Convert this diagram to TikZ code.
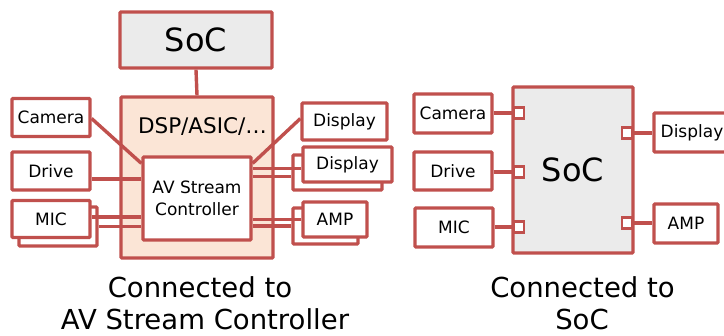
\documentclass[tikz,border=0pt]{standalone}
\usepackage{fontspec}
\setmainfont{DejaVu Sans}
\usetikzlibrary{calc}
\definecolor{bred}{HTML}{C0504D}
\definecolor{sgray}{HTML}{EBEBEB}
\definecolor{peach}{HTML}{FBE5D6}
\begin{document}
\begin{tikzpicture}[x=1pt,y=-1pt,
 box/.style={draw=bred, line width=3.2pt, fill=white, inner sep=0pt, align=center, rounded corners=1pt, font=\fontsize{17}{22.5}\selectfont},
 conn/.style={draw=bred, line width=3.4pt},
 port/.style={draw=bred, line width=2.4pt, fill=white, minimum width=10pt, minimum height=11pt, inner sep=0pt},
 big/.style={font=\fontsize{32}{38}\selectfont},
 caption/.style={font=\fontsize{27.5}{32}\selectfont, anchor=base, inner sep=0pt},
]
\useasboundingbox (0,0) rectangle (724,336);
\begin{scope}
\clip (0,0) rectangle (724,336);
% ---------- left panel ----------
\node[box, fill=sgray, minimum width=152pt, minimum height=56pt, big] (soc1) at (196,40) {SoC};
\node[box, fill=peach, minimum width=152pt, minimum height=161pt] (dsp) at (197,177.5) {};
\node[font=\fontsize{21.5}{26}\selectfont] (dsptxt) at (202.5,127) {DSP/ASIC/…};
\draw[conn] (soc1.south) -- (dsp.north);
\node[box, minimum width=108pt, minimum height=83pt] (av) at (197,198.5) {AV Stream\\Controller};

\node[box, minimum width=78pt, minimum height=38pt] (cam) at (51,117.5) {Camera};
\node[box, minimum width=78pt, minimum height=38pt] (drive) at (51,171) {Drive};
\node[box, minimum width=78pt, minimum height=39pt] (micB) at (58,226.5) {};
\node[box, minimum width=78pt, minimum height=37pt] (micF) at (51,219) {MIC};

\node[box, minimum width=85pt, minimum height=37pt] (disp1) at (344.5,121.5) {Display};
\node[box, minimum width=89pt, minimum height=35pt] (disp2B) at (337.5,172.5) {};
\node[box, minimum width=89pt, minimum height=35pt] (disp2F) at (347.5,164.5) {Display};
\node[box, minimum width=65pt, minimum height=36pt] (ampB) at (325.5,226) {};
\node[box, minimum width=64pt, minimum height=35pt] (ampF) at (335,219.5) {AMP};

\draw[conn] ($(cam.east)+(0,1)$) -- ($(av.north west)+(0,8)$);
\draw[conn] ($(drive.east)+(0,8)$) -- ($(drive.east -| av.west)+(0,8)$);
\draw[conn] ($(micF.east)+(0,-2)$) -- ($(micF.east -| av.west)+(0,-2)$);
\draw[conn] (micB.east) -- (micB.east -| av.west);
\draw[conn] ($(disp1.west)+(0,-3)$) -- ($(av.north east)+(0,8)$);
\draw[conn] ($(disp2F.west)+(0,4)$) -- ($(disp2F.west -| av.east)+(0,4)$);
\draw[conn] ($(disp2B.west)+(0,4)$) -- ($(disp2B.west -| av.east)+(0,4)$);
\draw[conn] (ampF.west) -- (ampF.west -| av.east);
\draw[conn] (ampB.west) -- (ampB.west -| av.east);

% ---------- right panel ----------
\node[box, fill=sgray, minimum width=120pt, minimum height=166pt, big] (soc2) at (573,170) {SoC};
\node[box, minimum width=78pt, minimum height=39pt] (cam2) at (453,113.5) {Camera};
\node[box, minimum width=78pt, minimum height=38pt] (drive2) at (453,171) {Drive};
\node[box, minimum width=78pt, minimum height=39pt] (mic2) at (454,227.5) {MIC};
\node[box, minimum width=76pt, minimum height=39pt] (disp3) at (692,132.5) {Display};
\node[box, minimum width=64pt, minimum height=39pt] (amp2) at (686,223.5) {AMP};

\node[port] (p1) at (519,113) {};
\node[port] (p2) at (519,172) {};
\node[port] (p3) at (519,227) {};
\node[port] (p4) at (627,133) {};
\node[port] (p5) at (627,223) {};

\draw[conn] (cam2.east |- p1.west) -- (p1.west);
\draw[conn] (drive2.east |- p2.west) -- (p2.west);
\draw[conn] (mic2.east |- p3.west) -- (p3.west);
\draw[conn] (p4.east) -- (disp3.west |- p4.east);
\draw[conn] (p5.east) -- (amp2.west |- p5.east);
\end{scope}

% ---------- captions ----------
\node[caption] (c1a) at (200,298) {Connected to};
\node[caption] (c1b) at (205,330) {AV Stream Controller};
\node[caption] (c2a) at (582.5,298) {Connected to};
\node[caption] (c2b) at (582,330) {SoC};
\end{tikzpicture}
\end{document}
